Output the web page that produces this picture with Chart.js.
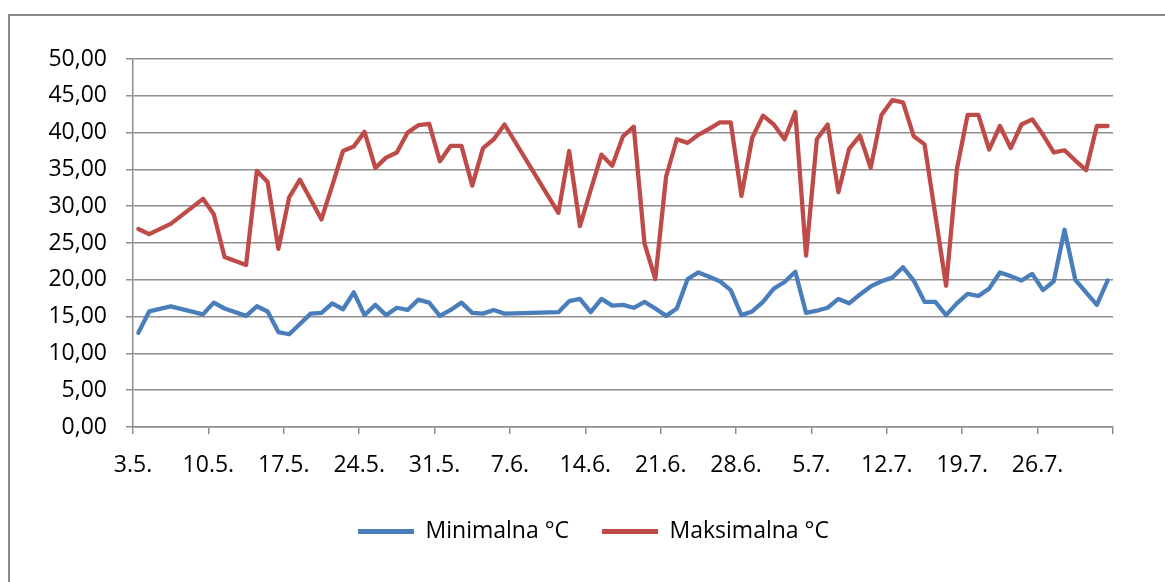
<html>

<head>
    <script src="https://cdn.jsdelivr.net/npm/chart.js"></script>

    <style>
        body {
            margin: 0;
            background-color: #ffffff;
            overflow: hidden;
        }

        #frame {
            position: absolute;
            left: 8px;
            top: 14px;
            width: 1300px;
            height: 700px;
            border: 2px solid #8a8a8a;
        }

        #holder {
            position: absolute;
            left: 0;
            top: 0;
            width: 1165px;
            height: 582px;
        }
    </style>

</head>

<body>
    <div id="frame"></div>
    <div id="holder">
        <canvas id="myChart"></canvas>
    </div>
</body>
<script>

    // dates that have a reading (gaps are joined by a straight line, like in Excel)
    var dayLabels = [
        '3.5.', '4.5.', '6.5.', '9.5.', '10.5.', '11.5.', '13.5.', '14.5.', '15.5.', '16.5.',
        '17.5.', '18.5.', '19.5.', '20.5.', '21.5.', '22.5.', '23.5.', '24.5.', '25.5.', '26.5.',
        '27.5.', '28.5.', '29.5.', '30.5.', '31.5.',
        '1.6.', '2.6.', '3.6.', '4.6.', '5.6.', '6.6.',
        '11.6.', '12.6.', '13.6.', '14.6.', '15.6.', '16.6.', '17.6.', '18.6.', '19.6.', '20.6.',
        '21.6.', '22.6.', '23.6.', '24.6.', '25.6.', '26.6.', '27.6.', '28.6.', '29.6.', '30.6.',
        '1.7.', '2.7.', '3.7.', '4.7.', '5.7.', '6.7.', '7.7.', '8.7.', '9.7.', '10.7.',
        '11.7.', '12.7.', '13.7.', '14.7.', '15.7.', '16.7.', '17.7.', '18.7.', '19.7.', '20.7.',
        '21.7.', '22.7.', '23.7.', '24.7.', '25.7.', '26.7.', '27.7.', '28.7.', '29.7.', '30.7.',
        '31.7.', '1.8.'
    ];

    var minTemps = [
        12.8, 15.7, 16.4, 15.3, 16.9, 16.1, 15.1, 16.4, 15.7, 12.9,
        12.6, 14.0, 15.4, 15.5, 16.8, 16.0, 18.3, 15.2, 16.6, 15.2,
        16.2, 15.9, 17.3, 16.9, 15.1,
        15.9, 16.9, 15.5, 15.4, 15.9, 15.4,
        15.6, 17.1, 17.4, 15.6, 17.4, 16.5, 16.6, 16.2, 17.0, 16.1,
        15.1, 16.1, 20.1, 21.0, 20.4, 19.8, 18.6, 15.2, 15.7, 17.0,
        18.8, 19.7, 21.1, 15.5, 15.8, 16.2, 17.4, 16.8, 18.0, 19.1,
        19.8, 20.3, 21.7, 19.9, 17.0, 17.0, 15.2, 16.8, 18.1, 17.8,
        18.8, 21.0, 20.5, 19.9, 20.8, 18.6, 19.8, 26.8, 20.0, 18.3,
        16.6, 19.9
    ];

    var maxTemps = [
        26.9, 26.2, 27.6, 31.0, 28.9, 23.1, 22.0, 34.8, 33.3, 24.2,
        31.2, 33.6, 30.9, 28.2, 32.8, 37.5, 38.1, 40.1, 35.2, 36.6,
        37.3, 40.0, 41.0, 41.2, 36.1,
        38.2, 38.2, 32.8, 37.9, 39.1, 41.1,
        29.1, 37.5, 27.3, 32.2, 37.0, 35.5, 39.5, 40.8, 24.9, 20.1,
        34.0, 39.1, 38.6, 39.7, 40.5, 41.4, 41.4, 31.4, 39.3, 42.3,
        41.1, 39.1, 42.8, 23.3, 39.1, 41.1, 31.9, 37.8, 39.6, 35.2,
        42.4, 44.4, 44.1, 39.5, 38.4, 28.8, 19.2, 35.0, 42.4, 42.4,
        37.7, 40.9, 37.9, 41.1, 41.8, 39.7, 37.3, 37.6, 36.2, 34.9,
        40.9, 40.9
    ];

    var xTickLabels = ['3.5.', '10.5.', '17.5.', '24.5.', '31.5.', '7.6.', '14.6.', '21.6.', '28.6.', '5.7.', '12.7.', '19.7.', '26.7.'];

    var seriesNames = ['Minimalna °C', 'Maksimalna °C'];

    var totalDays = 91;  // 3.5. .. 1.8.
    var gridGray = '#8e8e8e';
    var fontName = "'Open Sans', sans-serif";

    function dayIndex(label) {
        var parts = label.split('.');
        var start = Date.UTC(2000, 4, 3);
        return (Date.UTC(2000, parseInt(parts[1]) - 1, parseInt(parts[0])) - start) / 86400000;
    }

    function toPoints(values) {
        var points = [];
        for (var i = 0; i < values.length; i++) {
            points.push({ x: dayIndex(dayLabels[i]), y: values[i] });
        }
        return points;
    }

    // the legend in the original sits a bit right of the canvas centre
    var legendNudge = {
        id: 'legendNudge',
        afterLayout: function (chart) {
            if (chart.legend) {
                chart.legend.left += 37;
                chart.legend.right += 37;
            }
        }
    };

    function drawMyChart() {
        var paintingCanvas = document.getElementById('myChart').getContext('2d');
        var chart = new Chart(paintingCanvas, {
            type: 'line',
            data: {
                datasets: [
                    {
                        label: seriesNames[0],
                        borderColor: '#4a7ebb',
                        backgroundColor: '#4a7ebb',
                        borderWidth: 4.3,
                        borderJoinStyle: 'round',
                        borderCapStyle: 'round',
                        pointRadius: 0,
                        tension: 0,
                        data: toPoints(minTemps)
                    },
                    {
                        label: seriesNames[1],
                        borderColor: '#be4b48',
                        backgroundColor: '#be4b48',
                        borderWidth: 4.3,
                        borderJoinStyle: 'round',
                        borderCapStyle: 'round',
                        pointRadius: 0,
                        tension: 0,
                        data: toPoints(maxTemps)
                    }
                ]
            },
            options: {
                responsive: true,
                maintainAspectRatio: false,
                animation: false,
                layout: {
                    padding: { top: 59, right: 52, left: 0, bottom: 29 }
                },
                scales: {
                    x: {
                        type: 'linear',
                        min: -0.5,
                        max: totalDays - 0.5,
                        afterBuildTicks: function (scale) {
                            var ticks = [];
                            for (var k = 0; k * 7 <= totalDays; k++) {
                                ticks.push({ value: k * 7 - 0.5 });
                            }
                            scale.ticks = ticks;
                        },
                        afterFit: function (scale) {
                            scale.height = 60;
                        },
                        grid: {
                            drawOnChartArea: false,
                            color: gridGray,
                            lineWidth: 1.5,
                            tickLength: 7
                        },
                        border: { color: gridGray, width: 1.5 },
                        ticks: {
                            autoSkip: false,
                            maxRotation: 0,
                            padding: 18,
                            color: '#000000',
                            font: { family: fontName, size: 23 },
                            callback: function (value, index) {
                                return xTickLabels[index] || '';
                            }
                        }
                    },
                    y: {
                        min: 0,
                        max: 50,
                        afterFit: function (scale) {
                            scale.width = 133;
                        },
                        grid: {
                            color: gridGray,
                            lineWidth: 1.5,
                            tickLength: 7
                        },
                        border: { color: gridGray, width: 1.5 },
                        ticks: {
                            stepSize: 5,
                            padding: 19,
                            color: '#000000',
                            font: { family: fontName, size: 23 },
                            callback: function (value) {
                                return value.toFixed(2).replace('.', ',');
                            }
                        }
                    }
                },
                plugins: {
                    tooltip: { enabled: false },
                    legend: {
                        position: 'bottom',
                        labels: {
                            boxWidth: 56,
                            boxHeight: 5,
                            padding: 33,
                            color: '#000000',
                            font: { family: fontName, size: 23 },
                            generateLabels: function (chart) {
                                var items = Chart.defaults.plugins.legend.labels.generateLabels(chart);
                                items.forEach(function (item) { item.lineWidth = 0; });
                                return items;
                            }
                        }
                    }
                }
            },
            plugins: [legendNudge]
        });
    }

    drawMyChart();

</script>

</html>
